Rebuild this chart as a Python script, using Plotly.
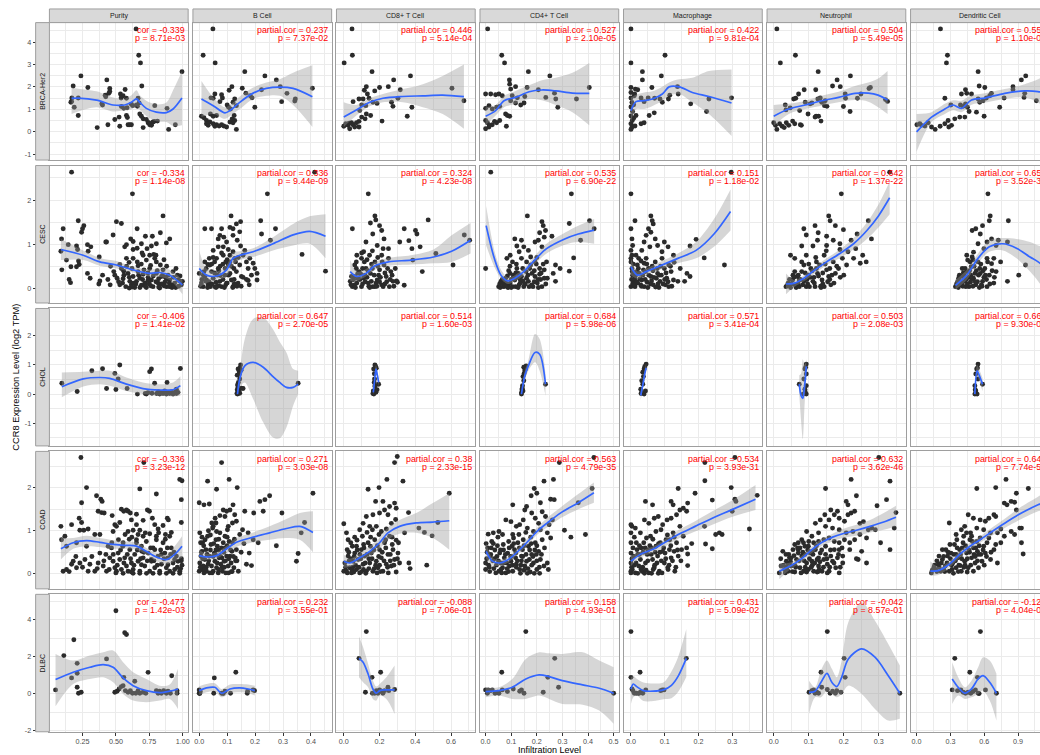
import plotly.graph_objects as go

# ---------------------------------------------------------------- facets
ROW_LABELS = ["BRCA-Her2", "CESC", "CHOL", "COAD", "DLBC"]
COL_LABELS = ["Purity", "B Cell", "CD8+ T Cell", "CD4+ T Cell", "Macrophage",
              "Neutrophil", "Dendritic Cell"]

# per-column x ranges / tick steps / label formats
x_ranges = [[0.002, 1.041], [-0.0225, 0.474], [-0.041, 0.735], [-0.022, 0.52],
            [-0.022, 0.389], [-0.019, 0.377], [-0.053, 1.177]]
x_dtick = [0.25, 0.1, 0.2, 0.1, 0.1, 0.1, 0.3]
x_fmt = [".2f", ".1f", ".1f", ".1f", ".1f", ".1f", ".1f"]

# per-row y ranges and tick labels
y_ranges = [[-1.27, 4.87], [-0.33, 2.78], [-1.78, 2.94], [-0.35, 2.84], [-2.07, 5.38]]
y_dtick = [1, 1, 1, 1, 2]
y_ticks = [[-1, 0, 1, 2, 3, 4], [0, 1, 2], [-1, 0, 1, 2], [0, 1, 2], [-2, 0, 2, 4]]
y_ticktext = [["-1", "0", "1", "2", "3", "4"], ["0", "1", "2"], ["-1", "0", "1", "2"],
              ["0", "1", "2"], ["-2", "0", "2", "4"]]

# ---------------------------------------------------------------- correlation labels
brca_stats = [["cor = -0.339", "p = 8.71e-03"], ["partial.cor = 0.237", "p = 7.37e-02"],
              ["partial.cor = 0.446", "p = 5.14e-04"], ["partial.cor = 0.527", "p = 2.10e-05"],
              ["partial.cor = 0.422", "p = 9.81e-04"], ["partial.cor = 0.504", "p = 5.49e-05"],
              ["partial.cor = 0.559", "p = 1.10e-05"]]
cesc_stats = [["cor = -0.334", "p = 1.14e-08"], ["partial.cor = 0.336", "p = 9.44e-09"],
              ["partial.cor = 0.324", "p = 4.23e-08"], ["partial.cor = 0.535", "p = 6.90e-22"],
              ["partial.cor = 0.151", "p = 1.18e-02"], ["partial.cor = 0.642", "p = 1.37e-22"],
              ["partial.cor = 0.651", "p = 3.52e-36"]]
chol_stats = [["cor = -0.406", "p = 1.41e-02"], ["partial.cor = 0.647", "p = 2.70e-05"],
              ["partial.cor = 0.514", "p = 1.60e-03"], ["partial.cor = 0.684", "p = 5.98e-06"],
              ["partial.cor = 0.571", "p = 3.41e-04"], ["partial.cor = 0.503", "p = 2.08e-03"],
              ["partial.cor = 0.667", "p = 9.30e-06"]]
coad_stats = [["cor = -0.336", "p = 3.23e-12"], ["partial.cor = 0.271", "p = 3.03e-08"],
              ["partial.cor = 0.38", "p = 2.33e-15"], ["partial.cor = 0.563", "p = 4.79e-35"],
              ["partial.cor = 0.534", "p = 3.93e-31"], ["partial.cor = 0.632", "p = 3.62e-46"],
              ["partial.cor = 0.648", "p = 7.74e-53"]]
dlbc_stats = [["cor = -0.477", "p = 1.42e-03"], ["partial.cor = 0.232", "p = 3.55e-01"],
              ["partial.cor = -0.088", "p = 7.06e-01"], ["partial.cor = 0.158", "p = 4.93e-01"],
              ["partial.cor = 0.431", "p = 5.09e-02"], ["partial.cor = -0.042", "p = 8.57e-01"],
              ["partial.cor = -0.127", "p = 4.04e-01"]]

# ---------------------------------------------------------------- samples (infiltration, expression)
# fits: (x, loess estimate, lower 95% CI, upper 95% CI)

# BRCA-Her2
brca_purity_pts = [(0.651,4.59),(0.671,3.41),(0.684,3.07),(0.238,2.49),(0.694,2.04),(0.18,2.04),(0.29,1.97),(0.432,2.31),(0.995,2.68),(0.454,1.93),(0.454,1.79),(0.447,1.71),(0.42,1.63),(0.424,1.56),(0.569,1.88),(0.534,1.68),(0.554,1.6),(0.539,1.5),(0.579,1.49),(0.666,1.49),(0.674,1.28),(0.17,1.5),(0.218,1.5),(0.168,1.35),(0.163,1.31),(0.188,1.09),(0.395,1.24),(0.4,1.19),(0.791,1.16),(0.883,1.04),(0.616,1.22),(0.626,1.16),(0.654,1.19),(0.661,1.13),(0.541,1.12),(0.559,1.04),(0.584,1.07),(0.524,0.65),(0.492,0.54),(0.579,0.72),(0.586,0.63),(0.679,0.79),(0.691,0.69),(0.704,0.57),(0.728,0.54),(0.741,0.4),(0.753,0.31),(0.766,0.35),(0.778,0.43),(0.788,0.46),(0.811,0.47),(0.218,0.72),(0.36,0.18),(0.44,0.31),(0.529,0.24),(0.591,0.31),(0.604,0.31),(0.616,0.31),(0.704,0.18),(0.766,0.28),(0.895,0.1),(0.945,0.31),(0.746,0.4)]
brca_purity_fit = [(0.168,1.49,0.79,1.97),(0.218,1.5,0.9,1.92),(0.355,1.41,1.09,1.8),(0.479,1.19,0.9,1.52),(0.566,1.19,0.95,1.47),(0.616,1.31,1.0,1.62),(0.654,1.46,1.12,1.85),(0.679,1.31,0.98,1.62),(0.728,1.04,0.7,1.38),(0.803,0.87,0.46,1.22),(0.878,0.85,0.43,1.3),(0.928,1.01,0.25,1.85),(0.995,1.5,0.28,2.7)]
brca_bcell_pts = [(0.049,4.59),(0.014,3.41),(0.057,3.07),(0.163,2.68),(0.235,2.49),(0.276,2.31),(0.117,2.01),(0.107,1.85),(0.154,1.94),(0.29,2.01),(0.314,1.71),(0.405,1.94),(0.056,1.68),(0.042,1.51),(0.05,1.49),(0.08,1.65),(0.083,1.5),(0.167,1.72),(0.183,1.6),(0.189,1.51),(0.223,1.87),(0.127,1.46),(0.121,1.31),(0.295,1.34),(0.344,1.46),(0.342,1.37),(0.199,1.09),(0.074,1.34),(0.1,1.19),(0.105,1.09),(0.112,1.01),(0.133,1.16),(0.008,0.69),(0.017,0.62),(0.026,0.5),(0.04,0.79),(0.05,0.69),(0.062,0.72),(0.038,0.43),(0.05,0.35),(0.062,0.31),(0.071,0.25),(0.08,0.31),(0.088,0.25),(0.098,0.21),(0.11,0.43),(0.121,0.4),(0.127,0.5),(0.118,0.57),(0.125,0.72),(0.133,0.1),(0.026,0.35),(0.032,0.28),(0.056,0.24)]
brca_bcell_fit = [(0.008,1.46,0.65,2.26),(0.05,1.16,0.79,1.53),(0.092,0.84,0.57,1.09),(0.11,0.94,0.7,1.2),(0.145,1.31,1.01,1.57),(0.193,1.72,1.46,1.97),(0.24,1.93,1.6,2.19),(0.288,1.99,1.6,2.34),(0.336,1.93,1.19,2.63),(0.405,1.56,0.21,2.96)]
brca_cd8_pts = [(0.046,4.59),(0.048,3.41),(0.002,3.07),(0.158,2.68),(0.373,2.49),(0.279,2.31),(0.2,1.97),(0.249,2.01),(0.316,1.87),(0.605,1.94),(0.115,1.85),(0.126,2.01),(0.132,1.68),(0.173,1.82),(0.085,1.46),(0.052,1.34),(0.108,1.46),(0.141,1.49),(0.163,1.31),(0.186,1.26),(0.267,1.31),(0.275,1.13),(0.303,1.49),(0.381,1.09),(0.672,1.38),(0.1,1.19),(0.123,1.16),(0.089,0.94),(0.126,0.79),(0.15,0.72),(0.1,0.65),(0.119,0.57),(0.355,0.69),(0.214,0.47),(0.011,0.35),(0.0,0.24),(0.024,0.28),(0.033,0.13),(0.043,0.4),(0.052,0.31),(0.061,0.21),(0.085,0.21),(0.085,0.46),(0.071,0.4),(0.02,0.32),(0.03,0.38)]
brca_cd8_fit = [(0.0,0.65,0.21,1.31),(0.07,0.97,0.72,1.19),(0.145,1.31,1.13,1.49),(0.219,1.49,1.31,1.68),(0.33,1.57,1.31,1.9),(0.442,1.6,1.09,2.12),(0.553,1.63,0.79,2.49),(0.672,1.56,0.13,3.0)]
brca_cd4_pts = [(0.008,4.59),(0.063,3.41),(0.074,3.07),(0.167,2.68),(0.251,2.49),(0.093,2.31),(0.094,2.12),(0.117,2.01),(0.098,1.9),(0.162,1.97),(0.206,1.87),(0.405,1.97),(0.0,1.68),(0.02,1.68),(0.039,1.65),(0.052,1.68),(0.065,1.6),(0.104,1.6),(0.124,1.51),(0.153,1.57),(0.098,1.38),(0.117,1.28),(0.137,1.19),(0.15,1.28),(0.235,1.53),(0.269,1.72),(0.274,1.46),(0.282,1.09),(0.355,1.46),(0.0,1.04),(0.013,1.16),(0.026,1.01),(0.043,1.09),(0.055,1.13),(0.078,0.79),(0.085,0.72),(0.094,0.69),(0.0,0.5),(0.007,0.4),(0.016,0.28),(0.026,0.31),(0.035,0.46),(0.043,0.4),(0.055,0.5),(0.081,0.24),(0.0,0.13),(0.013,0.21)]
brca_cd4_fit = [(0.0,0.69,0.28,1.09),(0.039,0.94,0.72,1.19),(0.072,1.38,1.09,1.6),(0.117,1.53,1.24,1.82),(0.17,1.78,1.46,2.07),(0.22,1.86,1.4,2.3),(0.274,1.82,1.19,2.41),(0.339,1.72,0.87,2.63),(0.405,1.71,0.28,3.07)]
brca_macro_pts = [(0.0,4.59),(0.0,3.07),(0.101,3.41),(0.034,2.68),(0.09,2.49),(0.034,2.31),(0.062,1.97),(0.0,1.97),(0.0,1.75),(0.0,1.5),(0.003,1.3),(0.0,1.1),(0.005,0.9),(0.0,0.7),(0.004,0.5),(0.0,0.35),(0.003,0.2),(0.0,0.1),(0.008,0.6),(0.01,1.6),(0.013,1.9),(0.02,1.87),(0.011,1.68),(0.03,1.5),(0.039,1.34),(0.051,1.5),(0.07,1.49),(0.086,1.46),(0.093,1.31),(0.111,1.46),(0.115,1.63),(0.138,2.01),(0.14,1.68),(0.015,0.72),(0.03,0.35),(0.039,0.4),(0.054,0.72),(0.069,0.84),(0.177,1.24),(0.224,0.9),(0.231,1.46),(0.298,1.51),(0.012,0.25),(0.008,1.2)]
brca_macro_fit = [(0.0,0.94,0.43,1.53),(0.015,1.34,1.0,1.65),(0.039,1.38,1.01,1.75),(0.064,1.46,1.15,1.8),(0.093,1.68,1.38,2.01),(0.113,2.0,1.6,2.2),(0.143,2.0,1.68,2.34),(0.182,1.75,1.31,2.41),(0.231,1.57,0.79,2.71),(0.298,1.28,-0.19,2.78)]
brca_neutro_pts = [(0.009,4.59),(0.019,3.07),(0.062,3.41),(0.127,2.68),(0.219,2.49),(0.181,2.31),(0.168,2.04),(0.19,2.01),(0.087,1.87),(0.12,1.87),(0.071,1.68),(0.057,1.46),(0.063,1.49),(0.272,1.93),(0.276,1.97),(0.249,1.68),(0.204,1.68),(0.205,1.49),(0.239,1.49),(0.033,1.19),(0.047,1.06),(0.035,0.97),(0.09,1.31),(0.104,1.24),(0.109,1.28),(0.126,1.46),(0.133,1.5),(0.137,1.31),(0.147,1.38),(0.145,1.16),(0.152,1.13),(0.098,0.79),(0.121,0.69),(0.128,0.69),(0.118,0.65),(0.135,0.47),(0.199,1.12),(0.218,0.9),(0.319,1.43),(0.325,1.35),(0.0,0.4),(0.005,0.28),(0.009,0.1),(0.017,0.35),(0.024,0.24),(0.03,0.18),(0.036,0.4),(0.043,0.28),(0.054,0.47),(0.06,0.35),(0.076,0.31),(0.079,0.28),(0.074,0.94)]
brca_neutro_fit = [(0.0,0.69,0.25,1.19),(0.043,1.01,0.79,1.24),(0.09,1.19,1.01,1.38),(0.137,1.38,1.16,1.6),(0.185,1.53,1.31,1.78),(0.232,1.71,1.41,2.04),(0.27,1.72,1.34,2.19),(0.298,1.63,1.09,2.37),(0.325,1.41,0.79,2.71)]
brca_dc_pts = [(0.212,4.59),(0.265,3.07),(0.274,3.41),(0.546,2.68),(0.968,2.49),(0.929,2.31),(0.555,2.04),(0.605,1.97),(0.434,1.87),(0.445,1.71),(0.398,1.68),(0.855,2.01),(0.855,1.87),(0.251,1.49),(0.304,1.19),(0.389,1.19),(0.413,1.13),(0.434,1.24),(0.451,1.09),(0.487,1.68),(0.546,1.46),(0.56,1.31),(0.59,1.38),(0.619,1.5),(0.649,1.6),(0.664,1.71),(0.776,1.5),(0.959,1.71),(0.953,1.53),(1.062,1.38),(0.003,0.31),(0.029,0.35),(0.044,0.28),(0.074,0.25),(0.103,0.4),(0.133,0.21),(0.165,0.1),(0.209,0.24),(0.251,0.35),(0.28,0.5),(0.286,0.21),(0.31,0.28),(0.339,0.57),(0.383,0.65),(0.428,0.65),(0.466,0.9),(0.531,0.87),(0.599,0.69),(0.737,1.09)]
brca_dc_fit = [(0.0,-0.01,-0.9,0.79),(0.133,0.65,0.43,0.87),(0.251,1.01,0.79,1.24),(0.324,1.19,0.95,1.4),(0.398,1.04,0.87,1.38),(0.487,1.41,1.2,1.62),(0.605,1.5,1.3,1.72),(0.782,1.71,1.46,1.9),(0.959,1.82,1.53,2.12),(1.077,1.79,1.31,2.34),(1.12,1.74,1.1,2.45)]

# CESC
cesc_purity_pts = [(0.168,2.63),(0.624,2.14),(0.853,1.64),(0.218,1.53),(0.105,1.35),(0.25,1.35),(0.243,1.27),(0.26,1.42),(0.504,1.51),(0.541,1.47),(0.659,1.35),(0.773,1.18),(0.833,1.26),(0.903,1.12),(0.611,1.12),(0.629,1.06),(0.579,0.99),(0.566,0.94),(0.479,1.21),(0.43,1.05),(0.093,1.12),(0.143,0.99),(0.205,0.96),(0.213,0.88),(0.287,0.99),(0.312,0.94),(0.375,0.71),(0.424,1.05),(0.088,0.84),(0.292,0.84),(0.22,0.62),(0.225,0.54),(0.205,0.49),(0.13,0.64),(0.163,0.49),(0.095,0.42),(0.15,0.2),(0.16,0.13),(0.287,0.34),(0.307,0.23),(0.38,0.17),(0.372,0.1),(0.457,0.08),(0.492,0.3),(0.509,0.23),(0.529,0.08),(0.554,0.22),(0.574,0.04),(0.591,0.34),(0.604,0.16),(0.616,0.08),(0.629,0.27),(0.641,0.02),(0.654,0.16),(0.666,0.38),(0.679,0.23),(0.691,0.07),(0.704,0.32),(0.716,0.12),(0.728,0.02),(0.741,0.25),(0.753,0.45),(0.766,0.19),(0.778,0.04),(0.791,0.68),(0.803,0.34),(0.816,0.12),(0.828,0.01),(0.841,0.27),(0.853,0.42),(0.866,0.14),(0.878,0.04),(0.89,0.3),(0.903,0.19),(0.915,0.08),(0.928,0.38),(0.94,0.12),(0.948,0.02),(0.965,0.19),(0.978,0.17),(0.99,0.08),(0.998,0.16),(0.704,0.75),(0.753,0.75),(0.783,0.77),(0.803,0.6),(0.833,0.53),(0.728,0.64),(0.579,0.68),(0.629,0.68),(0.666,0.51),(0.529,0.54),(0.541,0.45),(0.484,0.38),(0.559,0.39),(0.599,0.59),(0.766,0.96),(0.803,1.01),(0.878,1.03),(0.659,0.91),(0.696,0.8),(0.733,0.9),(0.629,0.88),(0.691,1.01),(0.721,1.18),(0.6,0.01),(0.68,0.02),(0.72,0.1),(0.76,0.06),(0.8,0.15),(0.86,0.06),(0.92,0.02),(0.97,0.05),(0.55,0.12),(0.65,0.1),(0.7,0.2),(0.75,0.1),(0.82,0.22),(0.88,0.2),(0.93,0.25),(0.62,0.45),(0.74,0.35),(0.85,0.3),(0.52,0.15),(0.56,0.3),(0.6,0.25),(0.63,0.12),(0.67,0.3),(0.71,0.42),(0.74,0.18),(0.78,0.28),(0.81,0.4),(0.84,0.1),(0.87,0.25),(0.9,0.12),(0.93,0.05),(0.96,0.3),(0.58,0.5),(0.69,0.55),(0.76,0.52),(0.88,0.5),(0.95,0.45),(0.98,0.28),(0.62,0.03),(0.72,0.05),(0.82,0.03),(0.9,0.04),(0.66,0.6),(0.8,0.75),(0.86,0.65),(0.46,0.5),(0.44,0.2),(0.4,0.3)]
cesc_purity_fit = [(0.088,0.88,0.64,1.12),(0.255,0.75,0.64,0.86),(0.38,0.6,0.51,0.69),(0.504,0.53,0.45,0.62),(0.629,0.42,0.36,0.49),(0.753,0.34,0.27,0.43),(0.828,0.36,0.26,0.45),(0.903,0.3,0.19,0.42),(0.998,0.08,-0.13,0.19)]
cesc_bcell_pts = [(0.244,2.14),(0.413,2.63),(0.114,1.64),(0.148,1.51),(0.133,1.46),(0.121,1.35),(0.11,1.38),(0.08,1.35),(0.074,1.2),(0.068,1.12),(0.088,1.16),(0.098,1.05),(0.121,1.2),(0.136,1.09),(0.145,1.28),(0.148,0.96),(0.02,1.35),(0.044,1.35),(0.22,1.53),(0.273,1.35),(0.255,1.09),(0.223,1.23),(0.368,0.77),(0.452,0.39),(0.207,0.34),(0.207,0.19),(0.175,0.18),(0.0,0.34),(0.008,0.12),(0.014,0.04),(0.02,0.27),(0.026,0.19),(0.032,0.08),(0.038,0.53),(0.044,0.38),(0.05,0.23),(0.056,0.04),(0.062,0.68),(0.068,0.45),(0.074,0.16),(0.08,0.04),(0.086,0.75),(0.092,0.3),(0.098,0.12),(0.104,0.53),(0.11,0.75),(0.115,0.19),(0.121,0.04),(0.127,0.68),(0.133,0.38),(0.139,0.12),(0.145,0.53),(0.151,0.27),(0.157,0.75),(0.163,0.86),(0.169,0.6),(0.175,0.45),(0.181,0.68),(0.187,0.3),(0.193,0.57),(0.036,0.68),(0.05,0.86),(0.068,0.94),(0.086,0.94),(0.104,0.88),(0.121,0.83),(0.06,0.14),(0.076,0.29),(0.093,0.45),(0.11,0.34),(0.124,0.45),(0.024,0.16),(0.04,0.04),(0.01,0.2),(0.017,0.38),(0.031,0.54),(0.157,0.25),(0.169,0.2),(0.199,0.45),(0.179,0.08),(0.045,0.1),(0.07,0.06),(0.095,0.08),(0.125,0.1),(0.15,0.05),(0.055,0.6),(0.1,0.65),(0.13,0.6),(0.085,0.55),(0.065,0.3),(0.005,0.05),(0.015,0.3),(0.025,0.45),(0.035,0.15),(0.045,0.55),(0.055,0.35),(0.065,0.05),(0.075,0.5),(0.085,0.2),(0.095,0.6),(0.105,0.3),(0.115,0.5),(0.125,0.2),(0.135,0.05),(0.14,0.7),(0.03,0.02),(0.06,0.02),(0.09,0.02),(0.12,0.02),(0.02,0.6),(0.05,0.7),(0.08,0.8),(0.11,0.6),(0.07,0.4),(0.1,0.12)]
cesc_bcell_fit = [(0.0,0.45,0.01,0.86),(0.026,0.3,0.12,0.45),(0.062,0.28,0.19,0.38),(0.098,0.42,0.27,0.53),(0.121,0.68,0.53,0.81),(0.145,0.75,0.64,0.84),(0.193,0.83,0.71,0.91),(0.264,1.01,0.86,1.16),(0.336,1.21,0.97,1.46),(0.395,1.29,1.01,1.63),(0.452,1.18,0.68,1.68)]
cesc_cd8_pts = [(0.137,2.14),(0.472,1.55),(0.048,1.35),(0.174,1.64),(0.179,1.55),(0.149,1.48),(0.2,1.42),(0.212,1.31),(0.162,1.23),(0.225,1.12),(0.187,0.97),(0.25,0.9),(0.124,1.05),(0.111,0.83),(0.073,0.75),(0.338,1.35),(0.401,1.31),(0.409,1.23),(0.364,1.08),(0.313,1.05),(0.381,0.9),(0.427,0.94),(0.386,0.64),(0.515,0.79),(0.439,0.38),(0.611,0.53),(0.674,1.21),(0.704,1.09),(0.338,0.07),(0.3,0.14),(0.295,0.17),(0.036,0.16),(0.048,0.04),(0.061,0.27),(0.073,0.12),(0.086,0.38),(0.099,0.04),(0.111,0.23),(0.124,0.45),(0.137,0.12),(0.149,0.34),(0.162,0.04),(0.174,0.6),(0.187,0.19),(0.2,0.42),(0.212,0.08),(0.225,0.53),(0.237,0.27),(0.25,0.68),(0.263,0.38),(0.275,0.16),(0.288,0.45),(0.061,0.53),(0.099,0.68),(0.144,0.75),(0.078,0.34),(0.119,0.3),(0.154,0.16),(0.195,0.3),(0.22,0.04),(0.255,0.04),(0.174,0.04),(0.212,0.75),(0.043,0.27),(0.09,0.2),(0.13,0.25),(0.16,0.45),(0.18,0.12),(0.24,0.15),(0.27,0.3),(0.06,0.08),(0.105,0.1),(0.14,0.05),(0.2,0.15),(0.23,0.35),(0.115,0.6),(0.07,0.45),(0.04,0.08),(0.055,0.2),(0.065,0.02),(0.08,0.22),(0.095,0.32),(0.105,0.45),(0.12,0.15),(0.135,0.4),(0.145,0.02),(0.155,0.55),(0.17,0.3),(0.185,0.05),(0.19,0.5),(0.205,0.25),(0.215,0.6),(0.23,0.1),(0.245,0.45),(0.26,0.2),(0.28,0.05),(0.07,0.6),(0.1,0.8),(0.13,0.65),(0.16,0.85),(0.19,0.7),(0.22,0.9)]
cesc_cd8_fit = [(0.036,0.38,0.16,0.64),(0.073,0.27,0.17,0.38),(0.124,0.34,0.27,0.44),(0.174,0.51,0.42,0.6),(0.25,0.6,0.51,0.69),(0.376,0.64,0.54,0.75),(0.502,0.71,0.57,0.88),(0.603,0.84,0.6,1.2),(0.709,1.09,0.79,1.48)]
cesc_cd4_pts = [(0.02,2.63),(0.335,2.14),(0.163,1.64),(0.406,1.53),(0.22,1.51),(0.225,1.42),(0.234,1.31),(0.211,1.26),(0.229,1.16),(0.206,1.09),(0.193,1.05),(0.22,0.94),(0.114,1.12),(0.14,1.09),(0.122,0.96),(0.149,0.94),(0.167,0.86),(0.131,0.83),(0.096,0.75),(0.083,0.68),(0.105,0.6),(0.14,0.68),(0.176,0.71),(0.193,0.6),(0.327,1.47),(0.424,1.35),(0.259,1.18),(0.371,1.09),(0.344,0.69),(0.327,0.39),(0.0,0.45),(0.238,0.6),(0.273,0.53),(0.291,0.45),(0.264,0.34),(0.229,0.42),(0.211,0.32),(0.241,0.23),(0.273,0.16),(0.051,0.04),(0.06,0.16),(0.069,0.04),(0.078,0.23),(0.087,0.08),(0.096,0.34),(0.105,0.04),(0.114,0.19),(0.122,0.45),(0.131,0.08),(0.14,0.27),(0.149,0.04),(0.158,0.38),(0.167,0.16),(0.176,0.53),(0.185,0.04),(0.193,0.27),(0.202,0.12),(0.211,0.45),(0.22,0.04),(0.229,0.23),(0.096,0.12),(0.117,0.04),(0.146,0.17),(0.17,0.04),(0.128,0.34),(0.16,0.23),(0.078,0.14),(0.181,0.34),(0.206,0.02),(0.057,0.02),(0.087,0.02),(0.1,0.2),(0.135,0.12),(0.19,0.15),(0.215,0.2),(0.155,0.1),(0.125,0.25),(0.11,0.3),(0.07,0.1),(0.055,0.1),(0.065,0.2),(0.075,0.05),(0.085,0.28),(0.09,0.4),(0.1,0.02),(0.108,0.25),(0.118,0.35),(0.127,0.02),(0.135,0.2),(0.145,0.45),(0.152,0.1),(0.165,0.3),(0.172,0.45),(0.18,0.08),(0.19,0.4),(0.198,0.55),(0.205,0.2),(0.217,0.35),(0.225,0.55),(0.235,0.1),(0.12,0.55),(0.095,0.5),(0.16,0.6),(0.2,0.7)]
cesc_cd4_fit = [(0.002,1.42,0.97,1.87),(0.034,0.68,0.49,0.86),(0.06,0.3,0.22,0.42),(0.087,0.17,0.1,0.25),(0.114,0.23,0.16,0.3),(0.149,0.38,0.29,0.45),(0.185,0.6,0.51,0.69),(0.238,0.9,0.79,1.01),(0.309,1.12,0.99,1.26),(0.362,1.23,1.05,1.42),(0.424,1.32,1.01,1.57)]
cesc_macro_pts = [(0.0,2.14),(0.297,2.63),(0.012,1.53),(0.059,1.64),(0.063,1.53),(0.066,1.46),(0.052,1.35),(0.059,1.27),(0.045,1.2),(0.072,1.12),(0.039,1.05),(0.056,0.94),(0.079,0.97),(0.032,0.86),(0.099,1.05),(0.11,0.94),(0.092,0.83),(0.0,1.35),(0.003,1.12),(0.005,0.97),(0.0,0.86),(0.003,0.75),(0.0,0.68),(0.193,1.11),(0.175,0.96),(0.217,0.69),(0.277,0.53),(0.128,0.59),(0.146,0.45),(0.166,0.34),(0.175,0.27),(0.139,0.16),(0.159,0.16),(0.112,0.53),(0.126,0.75),(0.0,0.6),(0.003,0.45),(0.005,0.3),(0.008,0.16),(0.012,0.04),(0.019,0.53),(0.025,0.34),(0.032,0.19),(0.039,0.04),(0.045,0.68),(0.052,0.45),(0.059,0.27),(0.066,0.08),(0.072,0.6),(0.079,0.34),(0.086,0.16),(0.092,0.68),(0.099,0.45),(0.106,0.23),(0.112,0.04),(0.119,0.38),(0.126,0.19),(0.012,0.23),(0.029,0.08),(0.043,0.38),(0.061,0.17),(0.083,0.02),(0.102,0.08),(0.023,0.68),(0.048,0.14),(0.075,0.23),(0.0,0.04),(0.016,0.38),(0.039,0.57),(0.005,0.1),(0.02,0.12),(0.035,0.3),(0.05,0.02),(0.065,0.4),(0.08,0.1),(0.09,0.3),(0.015,0.75),(0.03,0.62),(0.1,0.2),(0.002,0.2),(0.004,0.38),(0.007,0.55),(0.01,0.08),(0.014,0.3),(0.018,0.15),(0.022,0.45),(0.027,0.22),(0.031,0.05),(0.037,0.42),(0.042,0.2),(0.047,0.55),(0.053,0.3),(0.058,0.1),(0.063,0.5),(0.068,0.25),(0.073,0.03),(0.078,0.45),(0.084,0.3),(0.088,0.5),(0.095,0.1),(0.104,0.35),(0.11,0.15),(0.117,0.5),(0.121,0.05)]
cesc_macro_fit = [(0.0,0.49,0.3,0.68),(0.019,0.3,0.22,0.39),(0.045,0.38,0.3,0.45),(0.086,0.51,0.42,0.6),(0.139,0.68,0.57,0.79),(0.193,0.86,0.68,1.05),(0.246,1.23,0.94,1.57),(0.295,1.74,1.31,2.24)]
cesc_neutro_pts = [(0.331,2.63),(0.193,2.14),(0.27,1.53),(0.157,1.64),(0.161,1.53),(0.118,1.42),(0.086,1.35),(0.093,1.21),(0.127,1.26),(0.151,1.18),(0.176,1.42),(0.199,1.33),(0.17,1.09),(0.189,1.01),(0.221,1.09),(0.238,1.23),(0.125,1.09),(0.08,0.96),(0.112,0.96),(0.151,0.97),(0.189,0.88),(0.212,0.83),(0.234,0.9),(0.254,0.75),(0.264,0.6),(0.228,0.68),(0.196,0.68),(0.208,0.53),(0.048,0.75),(0.06,0.68),(0.093,0.75),(0.144,0.75),(0.279,1.12),(0.247,0.57),(0.035,0.04),(0.041,0.12),(0.048,0.02),(0.054,0.19),(0.06,0.08),(0.067,0.27),(0.073,0.04),(0.08,0.38),(0.086,0.16),(0.093,0.04),(0.099,0.3),(0.106,0.45),(0.112,0.16),(0.118,0.04),(0.125,0.34),(0.131,0.53),(0.138,0.19),(0.144,0.04),(0.151,0.42),(0.157,0.27),(0.163,0.08),(0.17,0.6),(0.176,0.34),(0.073,0.19),(0.102,0.04),(0.135,0.02),(0.086,0.53),(0.122,0.6),(0.06,0.38),(0.08,0.6),(0.045,0.2),(0.07,0.1),(0.095,0.2),(0.115,0.25),(0.14,0.1),(0.16,0.2),(0.185,0.45),(0.2,0.3),(0.055,0.3),(0.1,0.55),(0.04,0.08),(0.05,0.1),(0.058,0.25),(0.064,0.02),(0.07,0.3),(0.076,0.2),(0.083,0.08),(0.09,0.35),(0.097,0.1),(0.104,0.25),(0.11,0.4),(0.116,0.12),(0.122,0.45),(0.128,0.28),(0.134,0.05),(0.14,0.35),(0.147,0.55),(0.154,0.15),(0.16,0.45),(0.166,0.3),(0.172,0.12),(0.18,0.5),(0.19,0.25),(0.12,0.7),(0.15,0.85)]
cesc_neutro_fit = [(0.035,0.1,-0.13,0.34),(0.06,0.12,0.04,0.19),(0.086,0.23,0.16,0.3),(0.118,0.42,0.34,0.49),(0.151,0.6,0.53,0.68),(0.189,0.79,0.69,0.88),(0.228,1.01,0.88,1.14),(0.266,1.31,1.12,1.49),(0.299,1.64,1.38,1.9),(0.331,2.05,1.68,2.42)]
cesc_dc_pts = [(0.633,2.14),(0.653,1.64),(0.814,1.53),(0.645,1.53),(0.585,1.42),(0.525,1.35),(0.493,1.31),(0.565,1.23),(0.665,1.12),(0.625,1.05),(0.545,1.01),(0.705,0.97),(0.725,1.09),(0.806,1.05),(0.597,0.9),(0.505,0.82),(0.445,0.75),(0.745,0.6),(0.685,0.68),(0.625,0.68),(0.966,0.53),(0.906,0.3),(0.806,0.16),(0.345,0.04),(0.365,0.16),(0.385,0.08),(0.405,0.27),(0.425,0.16),(0.445,0.38),(0.465,0.04),(0.485,0.49),(0.505,0.23),(0.525,0.08),(0.545,0.6),(0.565,0.34),(0.585,0.16),(0.605,0.45),(0.625,0.04),(0.645,0.3),(0.665,0.56),(0.685,0.12),(0.705,0.38),(0.437,0.04),(0.477,0.14),(0.517,0.34),(0.557,0.02),(0.597,0.25),(0.405,0.45),(0.373,0.23),(0.453,0.64),(0.493,0.71),(0.4,0.1),(0.46,0.25),(0.5,0.05),(0.54,0.15),(0.58,0.05),(0.62,0.2),(0.42,0.3),(0.36,0.05),(0.48,0.3),(0.56,0.45),(0.355,0.1),(0.37,0.02),(0.38,0.3),(0.39,0.15),(0.41,0.05),(0.415,0.35),(0.43,0.45),(0.44,0.2),(0.45,0.1),(0.47,0.4),(0.475,0.6),(0.49,0.2),(0.51,0.5),(0.52,0.15),(0.53,0.4),(0.55,0.3),(0.57,0.55),(0.575,0.08),(0.59,0.4),(0.61,0.3),(0.63,0.6),(0.65,0.1),(0.67,0.4),(0.69,0.25),(0.5,0.65)]
cesc_dc_fit = [(0.345,0.07,-0.03,0.19),(0.445,0.3,0.19,0.42),(0.545,0.68,0.57,0.79),(0.645,0.94,0.83,1.09),(0.766,1.01,0.86,1.14),(0.886,0.91,0.68,1.12),(1.006,0.71,0.38,1.05),(1.078,0.6,0.16,0.97),(1.15,0.45,-0.1,0.95)]

# CHOL
chol_purity_pts = [(0.095,0.37),(0.21,0.09),(0.32,0.8),(0.4,0.87),(0.43,0.19),(0.492,0.71),(0.5,0.16),(0.517,0.52),(0.529,1.0),(0.584,0.19),(0.661,0.0),(0.72,0.02),(0.728,0.0),(0.753,0.77),(0.766,0.86),(0.79,0.37),(0.805,0.02),(0.818,0.08),(0.828,0.0),(0.84,0.06),(0.853,0.02),(0.865,0.11),(0.878,0.0),(0.89,0.06),(0.903,0.02),(0.915,0.08),(0.928,0.0),(0.94,0.06),(0.883,0.4),(0.953,0.02),(0.965,0.06),(0.983,0.88),(0.953,0.17),(0.74,0.05),(0.77,0.03)]
chol_purity_fit = [(0.095,0.25,-0.11,0.74),(0.255,0.52,0.26,0.77),(0.38,0.57,0.34,0.8),(0.454,0.54,0.29,0.8),(0.579,0.34,0.11,0.57),(0.703,0.19,0.0,0.4),(0.828,0.14,-0.06,0.34),(0.928,0.15,-0.08,0.4),(0.983,0.29,-0.06,0.61)]
chol_bcell_pts = [(0.139,0.86),(0.148,1.0),(0.143,0.77),(0.136,0.65),(0.145,0.52),(0.14,0.4),(0.137,0.31),(0.139,0.23),(0.136,0.15),(0.142,0.08),(0.137,0.0),(0.145,0.03),(0.151,0.2),(0.143,0.68),(0.157,0.19),(0.354,0.37),(0.138,0.05),(0.141,0.12),(0.146,0.9),(0.15,0.82),(0.135,0.02)]
chol_bcell_fit = [(0.137,0.0,-0.06,0.11),(0.145,0.52,0.23,0.69),(0.163,0.97,0.4,1.89),(0.193,1.09,-0.17,2.58),(0.229,0.92,-0.97,2.63),(0.264,0.6,-1.49,2.23),(0.288,0.4,-1.52,1.8),(0.312,0.23,-1.15,1.43),(0.336,0.23,-0.4,0.86),(0.354,0.34,0.0,0.8)]
chol_cd8_pts = [(0.174,1.0),(0.182,0.89),(0.167,0.86),(0.172,0.52),(0.17,0.4),(0.174,0.26),(0.165,0.11),(0.168,0.0),(0.18,0.06),(0.186,0.15),(0.195,0.34),(0.163,0.02),(0.178,0.95),(0.171,0.7),(0.176,0.3)]
chol_cd8_fit = [(0.165,0.06,-0.05,0.18),(0.172,0.45,0.3,0.6),(0.18,0.86,0.72,1.0),(0.186,0.7,0.55,0.85),(0.195,0.4,0.25,0.55)]
chol_cd4_pts = [(0.14,0.0),(0.146,0.11),(0.144,0.29),(0.149,0.46),(0.146,0.6),(0.153,0.8),(0.149,0.92),(0.158,0.97),(0.14,0.05),(0.143,0.2),(0.155,0.85),(0.234,0.34),(0.142,0.15),(0.15,0.7)]
chol_cd4_fit = [(0.14,0.0,-0.06,0.06),(0.153,0.63,0.46,0.8),(0.167,0.97,0.8,1.15),(0.193,1.43,1.09,2.06),(0.211,1.37,0.8,1.89),(0.234,0.34,-0.06,0.69)]
chol_macro_pts = [(0.045,1.03),(0.039,0.86),(0.035,0.75),(0.032,0.46),(0.035,0.34),(0.029,0.17),(0.032,0.06),(0.039,0.0),(0.043,0.11),(0.03,0.02),(0.041,0.95),(0.037,0.6)]
chol_macro_fit = [(0.029,-0.05,-0.2,0.1),(0.035,0.3,0.15,0.45),(0.041,0.7,0.55,0.85),(0.045,0.9,0.75,1.05)]
chol_neutro_pts = [(0.093,1.03),(0.089,0.86),(0.093,0.69),(0.086,0.52),(0.093,0.29),(0.089,0.17),(0.093,0.0),(0.084,0.0),(0.073,0.34),(0.091,0.92),(0.09,0.08)]
chol_neutro_fit = [(0.073,0.34,0.0,0.65),(0.078,-0.05,-0.9,0.7),(0.083,-0.15,-1.55,1.2),(0.088,0.25,-0.4,1.0),(0.093,0.95,0.7,1.2)]
chol_dc_pts = [(0.545,1.03),(0.533,0.86),(0.525,0.69),(0.545,0.52),(0.517,0.29),(0.525,0.11),(0.517,0.0),(0.537,0.0),(0.585,0.34),(0.54,0.9),(0.52,0.15)]
chol_dc_fit = [(0.517,0.0,-0.15,0.15),(0.537,0.8,0.6,1.0),(0.555,0.65,0.45,0.85),(0.585,0.34,0.1,0.55)]

# COAD
coad_purity_pts = [(0.238,2.7),(0.709,2.58),(0.28,2.0),(0.355,1.81),(0.387,1.73),(0.397,1.68),(0.243,1.65),(0.679,1.97),(0.803,1.85),(0.978,2.19),(0.995,2.16),(0.99,1.72),(0.99,1.19),(0.367,1.45),(0.392,1.42),(0.412,1.41),(0.472,1.35),(0.541,1.5),(0.559,1.45),(0.579,1.48),(0.591,1.45),(0.608,1.41),(0.654,1.38),(0.616,1.25),(0.736,1.48),(0.751,1.45),(0.773,1.29),(0.885,1.29),(0.893,1.25),(0.088,1.1),(0.168,1.14),(0.225,1.29),(0.243,1.19),(0.23,1.01),(0.26,1.01),(0.292,1.04),(0.342,0.91),(0.38,0.91),(0.093,0.79),(0.118,0.87),(0.13,0.64),(0.205,0.72),(0.28,0.64),(0.425,0.45),(0.442,0.64),(0.492,1.14),(0.504,1.1),(0.479,0.98),(0.529,1.19),(0.654,1.14),(0.679,1.01),(0.591,0.98),(0.629,1.01),(0.666,0.91),(0.704,1.24),(0.791,1.14),(0.816,1.04),(0.853,1.12),(0.871,0.91),(0.903,0.87),(0.915,0.96),(0.105,0.06),(0.13,0.1),(0.168,0.22),(0.18,0.29),(0.205,0.14),(0.23,0.25),(0.268,0.33),(0.292,0.06),(0.305,0.22),(0.342,0.06),(0.367,0.25),(0.38,0.48),(0.405,0.18),(0.43,0.06),(0.454,0.37),(0.467,0.6),(0.479,0.29),(0.492,0.14),(0.504,0.06),(0.517,0.48),(0.529,0.33),(0.541,0.1),(0.554,0.72),(0.566,0.37),(0.579,0.18),(0.591,0.06),(0.604,0.56),(0.616,0.25),(0.629,0.1),(0.641,0.45),(0.654,0.79),(0.666,0.29),(0.679,0.06),(0.691,0.64),(0.704,0.37),(0.716,0.18),(0.728,0.75),(0.741,0.48),(0.753,0.06),(0.766,0.33),(0.778,0.6),(0.791,0.14),(0.803,0.87),(0.816,0.41),(0.828,0.06),(0.841,0.22),(0.853,0.72),(0.866,0.48),(0.878,0.14),(0.89,0.37),(0.903,0.06),(0.915,0.6),(0.928,0.25),(0.94,0.1),(0.953,0.41),(0.965,0.29),(0.978,0.06),(0.995,0.2),(0.5,0.02),(0.554,0.01),(0.629,0.01),(0.679,0.01),(0.729,0.01),(0.778,0.01),(0.828,0.01),(0.878,0.01),(0.928,0.01),(0.978,0.01),(0.654,0.72),(0.704,0.87),(0.753,0.93),(0.803,0.79),(0.619,0.85),(0.569,0.91),(0.519,0.79),(0.469,0.72),(0.791,0.56),(0.841,0.45),(0.89,0.21),(0.94,0.33),(0.766,0.29),(0.691,0.21),(0.616,0.04),(0.552,0.64),(0.694,0.52),(0.99,0.35),(0.99,0.3),(0.15,0.05),(0.2,0.4),(0.25,0.15),(0.32,0.4),(0.36,0.12),(0.41,0.3),(0.45,0.1),(0.48,0.45),(0.51,0.2),(0.535,0.55),(0.56,0.25),(0.585,0.45),(0.61,0.35),(0.635,0.2),(0.66,0.55),(0.685,0.35),(0.71,0.5),(0.735,0.3),(0.76,0.6),(0.785,0.3),(0.81,0.2),(0.835,0.55),(0.86,0.35),(0.885,0.6),(0.91,0.45),(0.935,0.5),(0.96,0.15),(0.985,0.12),(0.6,0.8),(0.72,0.95),(0.82,0.95),(0.87,0.8)]
coad_purity_fit = [(0.088,0.58,0.33,0.83),(0.18,0.72,0.58,0.83),(0.28,0.77,0.64,0.88),(0.38,0.73,0.62,0.83),(0.479,0.68,0.58,0.78),(0.579,0.66,0.58,0.75),(0.654,0.64,0.56,0.73),(0.728,0.52,0.45,0.6),(0.803,0.39,0.29,0.48),(0.878,0.33,0.22,0.45),(0.94,0.45,0.29,0.64),(0.995,0.64,0.37,0.87)]
coad_bcell_pts = [(0.08,2.58),(0.107,2.19),(0.03,2.15),(0.062,1.96),(0.136,2.0),(0.0,1.65),(0.017,1.6),(0.036,1.62),(0.086,1.48),(0.092,1.33),(0.098,1.45),(0.11,1.48),(0.121,1.6),(0.127,1.37),(0.133,1.22),(0.119,1.18),(0.104,1.1),(0.074,1.35),(0.06,1.18),(0.05,1.1),(0.062,0.98),(0.163,1.45),(0.195,1.41),(0.217,1.68),(0.235,1.72),(0.252,1.81),(0.229,1.45),(0.296,1.41),(0.407,1.87),(0.377,1.19),(0.365,0.95),(0.354,0.47),(0.348,0.29),(0.276,0.65),(0.175,0.95),(0.193,0.79),(0.211,0.72),(0.179,0.48),(0.169,0.22),(0.187,0.19),(0.0,0.06),(0.002,0.25),(0.006,0.41),(0.008,0.1),(0.012,0.72),(0.014,0.18),(0.017,0.02),(0.02,0.33),(0.024,0.56),(0.026,0.06),(0.03,0.87),(0.032,0.22),(0.036,0.41),(0.038,0.02),(0.042,0.68),(0.044,0.18),(0.048,1.06),(0.05,0.06),(0.054,0.48),(0.056,0.29),(0.06,0.79),(0.062,0.14),(0.065,0.64),(0.068,0.02),(0.071,0.37),(0.074,0.95),(0.077,0.22),(0.08,0.6),(0.083,0.06),(0.086,0.72),(0.089,0.29),(0.092,0.87),(0.095,0.02),(0.098,0.41),(0.101,1.02),(0.104,0.18),(0.107,0.75),(0.11,0.41),(0.114,0.25),(0.119,0.72),(0.124,0.14),(0.129,0.37),(0.133,0.56),(0.14,0.06),(0.01,0.52),(0.021,0.79),(0.033,1.0),(0.045,1.18),(0.057,1.29),(0.069,0.1),(0.081,0.37),(0.093,0.6),(0.105,0.02),(0.117,0.52),(0.002,0.95),(0.005,0.72),(0.145,0.91),(0.155,1.02),(0.05,0.4),(0.115,0.05),(0.025,0.15),(0.09,0.15),(0.13,0.3),(0.06,0.55),(0.004,0.15),(0.008,0.5),(0.012,0.35),(0.016,0.65),(0.02,0.1),(0.028,0.45),(0.034,0.3),(0.04,0.55),(0.046,0.02),(0.052,0.7),(0.058,0.45),(0.064,0.25),(0.07,0.55),(0.076,0.4),(0.082,0.15),(0.088,0.5),(0.094,0.3),(0.1,0.65),(0.106,0.35),(0.112,0.55),(0.118,0.05),(0.122,0.4),(0.126,0.8),(0.135,0.3),(0.15,0.5),(0.16,0.7),(0.01,0.85),(0.04,0.9),(0.07,0.8),(0.1,0.85)]
coad_bcell_fit = [(0.0,0.42,0.29,0.56),(0.026,0.39,0.32,0.47),(0.062,0.42,0.35,0.5),(0.098,0.58,0.48,0.65),(0.133,0.73,0.62,0.83),(0.193,0.85,0.73,0.96),(0.252,0.95,0.79,1.1),(0.312,1.05,0.83,1.27),(0.36,1.1,0.79,1.41),(0.407,0.96,0.5,1.45)]
coad_cd8_pts = [(0.299,2.72),(0.284,2.58),(0.331,2.15),(0.241,2.19),(0.136,1.96),(0.197,2.0),(0.178,1.68),(0.219,1.68),(0.228,1.48),(0.256,1.56),(0.284,1.64),(0.293,1.52),(0.247,1.37),(0.2,1.41),(0.163,1.37),(0.126,1.33),(0.108,1.17),(0.089,1.02),(0.145,1.1),(0.182,1.1),(0.21,0.98),(0.238,1.04),(0.266,1.17),(0.29,1.26),(0.362,1.42),(0.34,0.95),(0.293,0.78),(0.306,0.72),(0.364,0.25),(0.371,0.12),(0.464,0.2),(0.42,1.06),(0.451,0.96),(0.494,0.88),(0.526,1.19),(0.59,1.87),(0.0,1.16),(0.015,0.95),(0.024,0.79),(0.039,0.72),(0.061,0.85),(0.071,0.64),(0.0,0.06),(0.006,0.25),(0.015,0.06),(0.024,0.41),(0.033,0.14),(0.043,0.02),(0.052,0.29),(0.061,0.48),(0.071,0.1),(0.08,0.33),(0.089,0.02),(0.098,0.56),(0.108,0.22),(0.117,0.41),(0.126,0.06),(0.136,0.72),(0.145,0.25),(0.154,0.48),(0.163,0.06),(0.173,0.79),(0.182,0.29),(0.191,0.14),(0.2,0.56),(0.21,0.37),(0.219,0.06),(0.228,0.72),(0.238,0.22),(0.247,0.45),(0.256,0.87),(0.266,0.18),(0.275,0.56),(0.284,0.33),(0.293,0.04),(0.303,0.48),(0.312,0.25),(0.019,0.56),(0.048,0.64),(0.074,0.78),(0.104,0.87),(0.13,0.96),(0.16,1.02),(0.197,0.91),(0.234,0.79),(0.271,0.68),(0.056,0.04),(0.123,0.01),(0.186,0.02),(0.249,0.02),(0.149,0.64),(0.111,0.68),(0.09,0.45),(0.14,0.35),(0.17,0.12),(0.05,0.15),(0.11,0.1),(0.2,0.2),(0.26,0.3),(0.03,0.3),(0.01,0.15),(0.02,0.02),(0.028,0.5),(0.038,0.35),(0.045,0.1),(0.058,0.4),(0.066,0.2),(0.075,0.55),(0.085,0.15),(0.095,0.35),(0.1,0.05),(0.113,0.6),(0.12,0.25),(0.13,0.45),(0.14,0.12),(0.15,0.85),(0.158,0.35),(0.168,0.55),(0.178,0.2),(0.188,0.65),(0.195,0.4),(0.205,0.05),(0.215,0.5),(0.225,0.3),(0.235,0.6),(0.245,0.15),(0.26,0.45),(0.27,0.85),(0.28,0.2),(0.3,0.35)]
coad_cd8_fit = [(0.0,0.29,0.14,0.45),(0.033,0.25,0.16,0.35),(0.089,0.37,0.27,0.47),(0.145,0.52,0.41,0.64),(0.2,0.72,0.58,0.83),(0.247,0.95,0.79,1.08),(0.312,1.1,0.93,1.25),(0.405,1.18,0.95,1.41),(0.498,1.2,0.83,1.64),(0.59,1.23,0.56,1.87)]
coad_cd4_pts = [(0.288,2.58),(0.423,2.7),(0.228,2.15),(0.265,2.19),(0.178,1.81),(0.106,1.6),(0.19,1.98),(0.2,1.87),(0.254,1.73),(0.268,1.72),(0.214,1.65),(0.308,1.01),(0.333,0.85),(0.39,0.91),(0.362,1.65),(0.416,1.98),(0.241,0.25),(0.245,0.1),(0.16,1.56),(0.153,1.48),(0.18,1.41),(0.194,1.29),(0.207,1.17),(0.221,1.44),(0.234,1.33),(0.248,1.14),(0.261,1.25),(0.147,1.25),(0.133,1.14),(0.163,1.06),(0.187,0.98),(0.214,1.02),(0.241,0.95),(0.254,0.83),(0.079,1.25),(0.099,1.21),(0.12,1.1),(0.052,0.98),(0.066,0.91),(0.106,0.91),(0.052,0.06),(0.059,0.25),(0.066,0.14),(0.073,0.37),(0.079,0.02),(0.086,0.48),(0.093,0.18),(0.099,0.29),(0.106,0.06),(0.113,0.56),(0.12,0.22),(0.126,0.72),(0.133,0.1),(0.14,0.41),(0.147,0.79),(0.153,0.18),(0.16,0.29),(0.167,0.64),(0.174,0.04),(0.18,0.45),(0.187,0.25),(0.194,0.72),(0.2,0.1),(0.207,0.52),(0.214,0.33),(0.221,0.79),(0.228,0.18),(0.055,0.48),(0.069,0.68),(0.09,0.75),(0.109,0.83),(0.13,0.91),(0.157,0.96),(0.176,0.85),(0.117,0.37),(0.144,0.56),(0.171,0.33),(0.198,0.45),(0.082,0.25),(0.103,0.64),(0.136,0.01),(0.163,0.01),(0.19,0.01),(0.211,0.01),(0.0,0.1),(0.004,0.35),(0.008,0.6),(0.012,0.2),(0.016,0.05),(0.02,0.45),(0.024,0.75),(0.028,0.3),(0.032,0.12),(0.036,0.55),(0.04,0.02),(0.044,0.4),(0.048,0.85),(0.002,0.7),(0.01,0.92),(0.018,0.4),(0.03,0.95),(0.042,0.2),(0.046,0.65),(0.0,0.25),(0.06,0.1),(0.09,0.05),(0.12,0.15),(0.15,0.08),(0.18,0.2),(0.07,0.55),(0.1,0.4),(0.14,0.3),(0.2,0.3),(0.03,0.7),(0.006,0.5),(0.014,0.15),(0.022,0.6),(0.034,0.35),(0.05,0.3),(0.058,0.55),(0.063,0.02),(0.07,0.25),(0.077,0.45),(0.084,0.12),(0.092,0.6),(0.098,0.4),(0.105,0.2),(0.11,0.7),(0.118,0.48),(0.124,0.3),(0.132,0.6),(0.138,0.2),(0.145,0.4),(0.15,0.65),(0.158,0.45),(0.165,0.12),(0.172,0.55),(0.178,0.7),(0.185,0.4),(0.192,0.55),(0.2,0.65),(0.21,0.15),(0.218,0.45),(0.23,0.6)]
coad_cd4_fit = [(0.002,0.52,0.35,0.72),(0.025,0.3,0.2,0.38),(0.055,0.25,0.18,0.32),(0.08,0.3,0.23,0.37),(0.106,0.41,0.35,0.48),(0.16,0.72,0.64,0.8),(0.2,0.98,0.9,1.06),(0.241,1.18,1.08,1.3),(0.295,1.42,1.3,1.55),(0.362,1.65,1.5,1.85),(0.423,1.88,1.65,2.12)]
coad_macro_pts = [(0.219,2.58),(0.219,2.16),(0.308,2.7),(0.297,2.0),(0.14,1.98),(0.19,1.87),(0.043,1.68),(0.064,1.6),(0.119,1.68),(0.125,1.6),(0.145,1.48),(0.165,1.45),(0.168,1.64),(0.155,1.52),(0.241,1.71),(0.308,1.73),(0.311,1.68),(0.3,1.45),(0.374,1.82),(0.351,1.04),(0.262,0.95),(0.27,0.91),(0.251,0.91),(0.221,0.69),(0.218,1.1),(0.18,0.7),(0.165,0.6),(0.168,0.46),(0.241,0.58),(0.168,0.19),(0.0,0.06),(0.0,0.25),(0.004,0.1),(0.008,0.41),(0.013,0.02),(0.018,0.56),(0.023,0.18),(0.028,0.33),(0.033,0.06),(0.038,0.72),(0.043,0.25),(0.048,0.45),(0.053,0.02),(0.058,0.87),(0.064,0.33),(0.069,0.14),(0.074,0.64),(0.079,0.41),(0.084,0.06),(0.089,1.02),(0.094,0.52),(0.099,0.25),(0.104,0.79),(0.109,0.14),(0.114,0.56),(0.119,0.37),(0.125,0.95),(0.13,0.06),(0.135,0.72),(0.14,0.41),(0.145,1.1),(0.15,0.56),(0.155,0.87),(0.0,0.72),(0.0,0.95),(0.0,1.14),(0.003,1.1),(0.013,1.06),(0.028,0.95),(0.04,1.25),(0.053,1.17),(0.069,1.29),(0.081,1.33),(0.094,1.14),(0.107,1.25),(0.119,1.29),(0.135,1.37),(0.0,0.48),(0.016,0.72),(0.03,0.6),(0.046,0.83),(0.061,0.6),(0.074,0.98),(0.087,0.72),(0.101,0.48),(0.115,0.79),(0.128,0.52),(0.0,0.02),(0.02,0.01),(0.04,0.01),(0.061,0.01),(0.081,0.01),(0.01,0.2),(0.035,0.15),(0.05,0.55),(0.07,0.2),(0.09,0.3),(0.11,0.1),(0.025,0.45),(0.065,0.8),(0.002,0.15),(0.003,0.35),(0.006,0.6),(0.01,0.85),(0.015,0.25),(0.02,0.45),(0.025,0.65),(0.03,0.1),(0.036,0.5),(0.042,0.6),(0.045,0.08),(0.05,0.3),(0.056,0.65),(0.06,0.45),(0.066,0.1),(0.072,0.5),(0.077,0.25),(0.082,0.7),(0.086,0.5),(0.092,0.02),(0.097,0.6),(0.103,0.35),(0.108,0.9),(0.113,0.2),(0.118,0.65),(0.123,0.3),(0.128,0.85),(0.133,0.15),(0.138,0.55),(0.148,0.3)]
coad_macro_fit = [(0.0,0.29,0.18,0.41),(0.028,0.45,0.37,0.52),(0.069,0.58,0.5,0.65),(0.099,0.72,0.62,0.79),(0.14,0.91,0.81,1.01),(0.19,1.1,0.98,1.22),(0.241,1.29,1.14,1.45),(0.303,1.5,1.33,1.72),(0.369,1.73,1.48,2.06)]
coad_neutro_pts = [(0.3,2.7),(0.221,2.19),(0.332,2.15),(0.148,1.98),(0.236,1.81),(0.207,1.68),(0.212,1.6),(0.322,1.72),(0.295,1.58),(0.349,1.42),(0.344,1.06),(0.305,0.72),(0.332,0.56),(0.265,0.25),(0.241,0.33),(0.236,0.35),(0.251,0.52),(0.197,0.41),(0.217,0.56),(0.187,0.56),(0.119,1.17),(0.133,1.25),(0.146,1.37),(0.158,1.25),(0.173,1.37),(0.182,1.45),(0.163,1.48),(0.187,1.29),(0.202,1.22),(0.212,1.37),(0.221,1.41),(0.231,1.45),(0.246,1.17),(0.256,1.21),(0.27,1.02),(0.28,1.06),(0.29,1.02),(0.226,0.98),(0.246,0.91),(0.265,0.83),(0.207,0.95),(0.187,1.02),(0.168,1.06),(0.148,1.1),(0.128,0.95),(0.109,0.87),(0.094,0.98),(0.08,0.79),(0.06,0.68),(0.07,0.56),(0.085,0.72),(0.099,0.64),(0.114,0.72),(0.128,0.75),(0.143,0.79),(0.158,0.83),(0.173,0.75),(0.187,0.72),(0.202,0.79),(0.217,0.72),(0.231,0.79),(0.016,0.02),(0.021,0.18),(0.026,0.52),(0.031,0.1),(0.036,0.29),(0.041,0.06),(0.045,0.37),(0.05,0.18),(0.055,0.56),(0.06,0.04),(0.065,0.33),(0.07,0.72),(0.075,0.14),(0.08,0.41),(0.085,0.06),(0.089,0.64),(0.094,0.25),(0.099,0.1),(0.104,0.48),(0.109,0.29),(0.114,0.06),(0.119,0.56),(0.124,0.33),(0.128,0.18),(0.133,0.48),(0.138,0.06),(0.143,0.33),(0.148,0.64),(0.153,0.22),(0.158,0.06),(0.163,0.41),(0.168,0.29),(0.173,0.56),(0.177,0.14),(0.182,0.37),(0.187,0.02),(0.197,0.25),(0.05,0.37),(0.07,0.48),(0.089,0.45),(0.109,0.52),(0.128,0.37),(0.148,0.45),(0.094,0.04),(0.124,0.04),(0.153,0.02),(0.04,0.25),(0.06,0.2),(0.09,0.15),(0.11,0.2),(0.13,0.1),(0.16,0.15),(0.19,0.15),(0.035,0.45),(0.075,0.6),(0.1,0.75),(0.02,0.35),(0.028,0.2),(0.033,0.02),(0.038,0.15),(0.043,0.45),(0.048,0.28),(0.053,0.05),(0.058,0.42),(0.063,0.15),(0.068,0.6),(0.073,0.3),(0.078,0.02),(0.083,0.5),(0.087,0.3),(0.092,0.1),(0.097,0.55),(0.102,0.35),(0.107,0.15),(0.112,0.45),(0.117,0.25),(0.122,0.65),(0.127,0.05),(0.132,0.28),(0.137,0.55),(0.142,0.15),(0.152,0.35),(0.162,0.55),(0.172,0.25),(0.185,0.45),(0.195,0.6)]
coad_neutro_fit = [(0.016,0.06,-0.13,0.24),(0.05,0.19,0.12,0.27),(0.08,0.35,0.27,0.42),(0.109,0.56,0.48,0.64),(0.138,0.73,0.65,0.81),(0.168,0.85,0.75,0.93),(0.197,0.93,0.83,1.04),(0.236,1.01,0.88,1.14),(0.275,1.1,0.96,1.25),(0.314,1.2,1.02,1.41),(0.349,1.31,1.1,1.58)]
coad_dc_pts = [(0.793,2.19),(0.991,1.98),(0.885,1.87),(0.534,1.98),(0.702,2.0),(0.778,1.64),(0.802,1.6),(0.839,1.68),(0.869,1.66),(0.885,1.48),(0.29,1.18),(0.686,1.37),(0.702,1.33),(0.641,1.29),(0.61,1.22),(0.564,1.25),(0.458,1.37),(0.504,1.29),(0.427,1.1),(0.397,1.02),(0.351,0.91),(0.443,0.95),(0.488,0.87),(0.534,1.06),(0.595,1.02),(0.656,0.95),(0.717,0.95),(0.747,1.04),(0.778,0.87),(0.839,0.98),(0.869,0.91),(0.93,1.06),(0.93,0.72),(0.945,0.46),(0.915,1.06),(0.132,0.02),(0.153,0.14),(0.168,0.1),(0.193,0.22),(0.214,0.06),(0.229,0.33),(0.254,0.18),(0.275,0.41),(0.29,0.06),(0.305,0.48),(0.321,0.25),(0.336,0.68),(0.351,0.14),(0.366,0.37),(0.382,0.56),(0.397,0.06),(0.412,0.72),(0.427,0.29),(0.443,0.48),(0.458,0.14),(0.473,0.79),(0.488,0.37),(0.504,0.6),(0.519,0.25),(0.534,0.75),(0.549,0.45),(0.564,0.83),(0.58,0.29),(0.595,0.64),(0.61,0.48),(0.625,0.72),(0.656,0.33),(0.686,0.56),(0.717,0.25),(0.747,0.72),(0.504,0.06),(0.549,0.14),(0.26,0.56),(0.229,0.56),(0.296,0.68),(0.357,0.79),(0.418,0.87),(0.479,0.95),(0.54,0.52),(0.641,0.83),(0.702,0.68),(0.449,0.04),(0.388,0.19),(0.327,0.01),(0.199,0.41),(0.18,0.3),(0.24,0.1),(0.31,0.2),(0.37,0.05),(0.43,0.2),(0.47,0.5),(0.52,0.4),(0.6,0.2),(0.66,0.5),(0.35,0.45),(0.4,0.35),(0.14,0.08),(0.16,0.2),(0.18,0.05),(0.2,0.15),(0.22,0.25),(0.24,0.4),(0.25,0.05),(0.27,0.25),(0.28,0.5),(0.3,0.35),(0.315,0.1),(0.33,0.45),(0.345,0.3),(0.36,0.6),(0.375,0.2),(0.39,0.45),(0.405,0.6),(0.42,0.15),(0.435,0.65),(0.45,0.35),(0.465,0.55),(0.48,0.2),(0.495,0.75),(0.51,0.45),(0.525,0.6),(0.54,0.3),(0.555,0.65),(0.57,0.45),(0.59,0.55),(0.62,0.4)]
coad_dc_fit = [(0.122,0.06,-0.05,0.29),(0.199,0.08,-0.02,0.16),(0.29,0.22,0.14,0.29),(0.382,0.45,0.37,0.52),(0.473,0.64,0.56,0.72),(0.564,0.79,0.72,0.87),(0.686,1.01,0.91,1.1),(0.808,1.22,1.1,1.33),(0.93,1.41,1.27,1.56),(1.077,1.6,1.45,1.79),(1.15,1.68,1.5,1.9)]

# DLBC
dlbc_purity_pts = [(0.048,0.2),(0.11,2.06),(0.168,0.85),(0.185,2.92),(0.21,1.64),(0.21,1.1),(0.21,0.34),(0.22,0.02),(0.24,0.07),(0.43,1.88),(0.5,4.49),(0.566,3.3),(0.579,3.2),(0.492,0.07),(0.509,0.13),(0.524,0.25),(0.541,0.38),(0.554,0.43),(0.559,0.88),(0.571,0.16),(0.591,0.07),(0.608,0.16),(0.641,0.67),(0.624,0.02),(0.649,0.02),(0.666,0.16),(0.679,0.02),(0.704,0.07),(0.724,0.02),(0.741,1.15),(0.803,0.16),(0.816,0.02),(0.828,0.13),(0.841,0.02),(0.858,0.16),(0.878,0.02),(0.89,0.13),(0.908,0.02),(0.918,0.97),(0.958,0.16),(0.958,0.02)]
dlbc_purity_fit = [(0.048,0.76,-0.69,2.15),(0.18,1.16,0.52,1.79),(0.305,1.43,0.79,2.06),(0.405,1.57,0.88,2.24),(0.479,1.43,0.61,2.33),(0.554,0.85,-0.02,1.7),(0.629,0.43,-0.38,1.16),(0.728,0.16,-0.47,0.79),(0.828,0.05,-0.38,0.43),(0.903,0.13,-0.29,0.49),(0.965,0.25,-0.83,1.34)]
dlbc_bcell_pts = [(0.0,0.2),(0.0,0.02),(0.002,0.0),(0.054,0.85),(0.052,0.02),(0.08,0.02),(0.086,0.0),(0.092,0.13),(0.112,0.02),(0.131,1.16),(0.172,0.02),(0.173,0.13),(0.193,0.2),(0.198,0.16),(0.004,0.1)]
dlbc_bcell_fit = [(0.0,0.16,-0.07,0.4),(0.026,0.31,0.07,0.52),(0.056,0.34,0.13,0.56),(0.08,0.02,-0.2,0.25),(0.11,0.25,0.02,0.49),(0.145,0.31,0.07,0.52),(0.175,0.25,0.02,0.49),(0.199,0.16,-0.11,0.43)]
dlbc_cd8_pts = [(0.126,3.36),(0.085,1.91),(0.206,1.16),(0.158,0.88),(0.121,0.07),(0.16,0.02),(0.173,0.02),(0.182,0.16),(0.191,0.02),(0.2,0.2),(0.21,0.13),(0.219,0.02),(0.228,0.16),(0.247,0.34),(0.252,0.16),(0.284,0.22)]
dlbc_cd8_fit = [(0.085,1.91,0.88,3.09),(0.108,1.7,0.61,2.51),(0.136,1.06,0.34,1.61),(0.163,0.25,-0.29,0.7),(0.182,0.02,-0.38,0.38),(0.201,0.16,-0.11,0.52),(0.238,0.2,-0.29,0.88),(0.284,0.2,-1.1,1.52)]
dlbc_cd4_pts = [(0.157,3.36),(0.063,1.16),(0.27,1.91),(0.243,0.88),(0.285,0.34),(0.225,0.07),(0.15,0.02),(0.14,0.2),(0.133,0.13),(0.108,0.25),(0.085,0.11),(0.065,0.2),(0.052,0.02),(0.046,0.07),(0.037,0.02),(0.026,0.2),(0.02,0.16),(0.01,0.2),(0.0,0.2),(0.007,0.02),(0.5,0.02)]
dlbc_cd4_fit = [(0.0,0.11,-0.2,0.31),(0.052,0.16,-0.11,0.34),(0.104,0.34,-0.29,0.79),(0.157,0.79,-0.29,1.88),(0.209,1.01,-0.11,2.24),(0.248,0.92,-0.29,2.18),(0.3,0.7,-0.56,2.15),(0.379,0.47,-0.6,2.24),(0.444,0.29,-0.92,1.79),(0.5,0.02,-1.64,1.43)]
dlbc_macro_pts = [(0.0,3.36),(0.0,0.88),(0.027,1.16),(0.003,0.25),(0.006,0.16),(0.01,0.02),(0.016,0.02),(0.023,0.0),(0.028,0.07),(0.035,0.02),(0.044,0.2),(0.088,0.16),(0.093,0.2),(0.098,0.2),(0.164,1.91)]
dlbc_macro_fit = [(0.0,0.25,-0.56,0.88),(0.007,0.52,-0.2,0.95),(0.017,0.38,-0.1,0.8),(0.037,0.16,-0.4,0.6),(0.066,0.13,-0.4,0.55),(0.096,0.2,-0.3,0.6),(0.12,0.45,-0.25,1.2),(0.14,0.95,0.1,2.0),(0.164,1.91,0.9,3.5)]
dlbc_neutro_pts = [(0.153,3.36),(0.201,1.91),(0.135,1.16),(0.204,0.88),(0.137,0.34),(0.101,0.07),(0.109,0.16),(0.114,0.2),(0.118,0.02),(0.123,0.07),(0.128,0.02),(0.153,0.22),(0.161,0.02),(0.168,0.13),(0.176,0.02),(0.18,0.16),(0.192,0.07),(0.36,0.02)]
dlbc_neutro_fit = [(0.101,0.07,-1.1,0.7),(0.118,0.13,-0.2,0.34),(0.135,0.61,-0.2,1.25),(0.152,1.1,0.16,1.79),(0.166,0.61,-0.02,1.34),(0.18,0.38,-0.2,0.88),(0.194,0.88,-0.02,1.79),(0.213,1.88,0.43,3.86),(0.251,2.42,-0.02,4.95),(0.289,1.97,-0.83,3.95),(0.327,0.97,-1.46,2.69),(0.36,0.02,-1.37,1.52)]
dlbc_dc_pts = [(0.566,3.36),(0.339,1.91),(0.472,1.16),(0.54,0.88),(0.316,0.2),(0.363,0.16),(0.392,0.2),(0.413,0.07),(0.434,0.02),(0.457,0.07),(0.481,0.02),(0.501,0.11),(0.522,0.2),(0.546,0.02),(0.555,0.0),(0.611,0.2),(0.708,0.02)]
dlbc_dc_fit = [(0.316,0.79,-0.56,1.7),(0.369,0.34,-0.11,0.88),(0.428,0.02,-0.29,0.34),(0.487,0.25,-0.2,0.7),(0.546,0.79,-0.02,1.43),(0.59,0.97,0.16,1.97),(0.649,0.61,-0.38,1.79),(0.708,0.02,-1.46,1.07)]

# ---------------------------------------------------------------- facet table
PANELS = [
    [(brca_purity_pts, brca_purity_fit), (brca_bcell_pts, brca_bcell_fit), (brca_cd8_pts, brca_cd8_fit),
     (brca_cd4_pts, brca_cd4_fit), (brca_macro_pts, brca_macro_fit), (brca_neutro_pts, brca_neutro_fit),
     (brca_dc_pts, brca_dc_fit)],
    [(cesc_purity_pts, cesc_purity_fit), (cesc_bcell_pts, cesc_bcell_fit), (cesc_cd8_pts, cesc_cd8_fit),
     (cesc_cd4_pts, cesc_cd4_fit), (cesc_macro_pts, cesc_macro_fit), (cesc_neutro_pts, cesc_neutro_fit),
     (cesc_dc_pts, cesc_dc_fit)],
    [(chol_purity_pts, chol_purity_fit), (chol_bcell_pts, chol_bcell_fit), (chol_cd8_pts, chol_cd8_fit),
     (chol_cd4_pts, chol_cd4_fit), (chol_macro_pts, chol_macro_fit), (chol_neutro_pts, chol_neutro_fit),
     (chol_dc_pts, chol_dc_fit)],
    [(coad_purity_pts, coad_purity_fit), (coad_bcell_pts, coad_bcell_fit), (coad_cd8_pts, coad_cd8_fit),
     (coad_cd4_pts, coad_cd4_fit), (coad_macro_pts, coad_macro_fit), (coad_neutro_pts, coad_neutro_fit),
     (coad_dc_pts, coad_dc_fit)],
    [(dlbc_purity_pts, dlbc_purity_fit), (dlbc_bcell_pts, dlbc_bcell_fit), (dlbc_cd8_pts, dlbc_cd8_fit),
     (dlbc_cd4_pts, dlbc_cd4_fit), (dlbc_macro_pts, dlbc_macro_fit), (dlbc_neutro_pts, dlbc_neutro_fit),
     (dlbc_dc_pts, dlbc_dc_fit)],
]
STATS = [brca_stats, cesc_stats, chol_stats, coad_stats, dlbc_stats]

# ---------------------------------------------------------------- geometry (pixels)
W, H = 1058, 755
PW, PH = 139.0, 138.0
PANEL_L = [49.5 + 143.8 * c for c in range(7)]
PANEL_T = [22.7 + 143.5 * r for r in range(5)]
STRIP_TOP = 9.0
ROW_STRIP_L = 35.7

FONT = "Liberation Sans, Arial, sans-serif"
GRID = "#EBEBEB"
BORDER = "#9E9E9E"
STRIP_FILL = "#D9D9D9"
TICK_TEXT = "#4D4D4D"
POINT = "#2B2B2B"
SMOOTH = "#3366FF"
BAND = "rgba(153,153,153,0.4)"


def px(x):
    return x / W


def py(y):
    return 1 - y / H


fig = go.Figure()
layout = {}
annotations = []
shapes = []

for r in range(5):
    for c in range(7):
        k = r * 7 + c + 1
        xa = "x" if k == 1 else f"x{k}"
        ya = "y" if k == 1 else f"y{k}"
        pts, fit = PANELS[r][c]
        common = dict(xaxis=xa, yaxis=ya, showlegend=False, hoverinfo="skip")

        fig.add_trace(go.Scatter(x=[p[0] for p in pts], y=[p[1] for p in pts], mode="markers",
                                 marker=dict(size=4.9, color=POINT, line=dict(width=0)), **common))
        fx = [f[0] for f in fit]
        fig.add_trace(go.Scatter(x=fx, y=[f[2] for f in fit], mode="lines",
                                 line=dict(width=0, shape="spline", smoothing=0.9), **common))
        fig.add_trace(go.Scatter(x=fx, y=[f[3] for f in fit], mode="lines", fill="tonexty",
                                 fillcolor=BAND, line=dict(width=0, shape="spline", smoothing=0.9),
                                 **common))
        fig.add_trace(go.Scatter(x=fx, y=[f[1] for f in fit], mode="lines",
                                 line=dict(color=SMOOTH, width=1.7, shape="spline", smoothing=0.9),
                                 **common))

        L, T = PANEL_L[c], PANEL_T[r]
        bottom = r == 4
        layout["xaxis" if k == 1 else f"xaxis{k}"] = dict(
            domain=[px(L), px(L + PW)], range=x_ranges[c], anchor=ya,
            tickmode="linear", tick0=0, dtick=x_dtick[c], tickformat=x_fmt[c],
            showticklabels=bottom, ticks="outside" if bottom else "", ticklen=3,
            tickcolor="#333333", tickwidth=1,
            tickfont=dict(family=FONT, size=7.2, color=TICK_TEXT),
            showgrid=True, gridcolor=GRID, gridwidth=1,
            minor=dict(tick0=0, dtick=x_dtick[c] / 2, showgrid=True, gridcolor=GRID,
                       gridwidth=0.5, ticks=""),
            zeroline=False, showline=True, mirror=True, linecolor=BORDER, linewidth=1)
        layout["yaxis" if k == 1 else f"yaxis{k}"] = dict(
            domain=[py(T + PH), py(T)], range=y_ranges[r], anchor=xa,
            tickmode="linear", tick0=0, dtick=y_dtick[r], showticklabels=False, ticks="",
            showgrid=True, gridcolor=GRID, gridwidth=1,
            minor=dict(tick0=0, dtick=y_dtick[r] / 2, showgrid=True, gridcolor=GRID,
                       gridwidth=0.5, ticks=""),
            zeroline=False, showline=True, mirror=True, linecolor=BORDER, linewidth=1)

        # correlation text, top-right corner
        line1, line2 = STATS[r][c]
        for txt, dy in ((line1, 7.6), (line2, 15.6)):
            annotations.append(dict(
                text=txt, xref="paper", yref="paper", x=px(L + PW - 1.2), y=py(T + dy),
                xanchor="right", yanchor="middle", showarrow=False,
                font=dict(family=FONT, size=8.9, color="#FF0000")))

# column strips
for c, name in enumerate(COL_LABELS):
    L = PANEL_L[c]
    shapes.append(dict(type="rect", xref="paper", yref="paper", x0=px(L), x1=px(L + PW),
                       y0=py(PANEL_T[0]), y1=py(STRIP_TOP), fillcolor=STRIP_FILL,
                       line=dict(color=BORDER, width=1)))
    annotations.append(dict(text=name, xref="paper", yref="paper", x=px(L + PW / 2),
                            y=py((STRIP_TOP + PANEL_T[0]) / 2), xanchor="center",
                            yanchor="middle", showarrow=False,
                            font=dict(family=FONT, size=7.0, color="#1A1A1A")))

# row strips (left side) with the expression axis outside them
for r, name in enumerate(ROW_LABELS):
    T = PANEL_T[r]
    shapes.append(dict(type="rect", xref="paper", yref="paper", x0=px(ROW_STRIP_L),
                       x1=px(PANEL_L[0]), y0=py(T + PH), y1=py(T), fillcolor=STRIP_FILL,
                       line=dict(color=BORDER, width=1)))
    annotations.append(dict(text=name, xref="paper", yref="paper",
                            x=px((ROW_STRIP_L + PANEL_L[0]) / 2), y=py(T + PH / 2),
                            xanchor="center", yanchor="middle", textangle=-90, showarrow=False,
                            font=dict(family=FONT, size=7.0, color="#1A1A1A")))
    k = r * 7 + 1
    base_y = "y" if k == 1 else f"y{k}"
    base_x = "x" if k == 1 else f"x{k}"
    tick_axis = 36 + r
    layout[f"yaxis{tick_axis}"] = dict(
        overlaying=base_y, anchor="free", position=px(ROW_STRIP_L), side="left",
        range=y_ranges[r], tickmode="array", tickvals=y_ticks[r], ticktext=y_ticktext[r],
        color=TICK_TEXT, ticks="outside", ticklen=3, tickwidth=1, tickcolor="#333333",
        tickfont=dict(family=FONT, size=7.2, color=TICK_TEXT),
        showgrid=False, zeroline=False, showline=False)
    fig.add_trace(go.Scatter(x=[None], y=[None], xaxis=base_x, yaxis=f"y{tick_axis}",
                             showlegend=False, hoverinfo="skip"))

# axis titles
annotations.append(dict(text="Infiltration Level", xref="paper", yref="paper",
                        x=px((PANEL_L[0] + PANEL_L[6] + PW) / 2), y=py(752.8),
                        xanchor="center", yanchor="middle", showarrow=False,
                        font=dict(family=FONT, size=9.0, color="#000000")))
annotations.append(dict(text="CCR8 Expression Level (log2 TPM)", xref="paper", yref="paper",
                        x=px(16.5), y=py((PANEL_T[0] + PANEL_T[4] + PH) / 2),
                        xanchor="center", yanchor="middle", textangle=-90, showarrow=False,
                        font=dict(family=FONT, size=9.3, color="#000000")))

fig.update_layout(
    width=W, height=H, autosize=False,
    margin=dict(l=0, r=0, t=0, b=0),
    paper_bgcolor="white", plot_bgcolor="white",
    showlegend=False,
    annotations=annotations, shapes=shapes,
    **layout,
)

fig.write_html("out.html", config={"displayModeBar": False},
               post_script="document.body.style.margin='0';document.body.style.overflow='hidden';")
